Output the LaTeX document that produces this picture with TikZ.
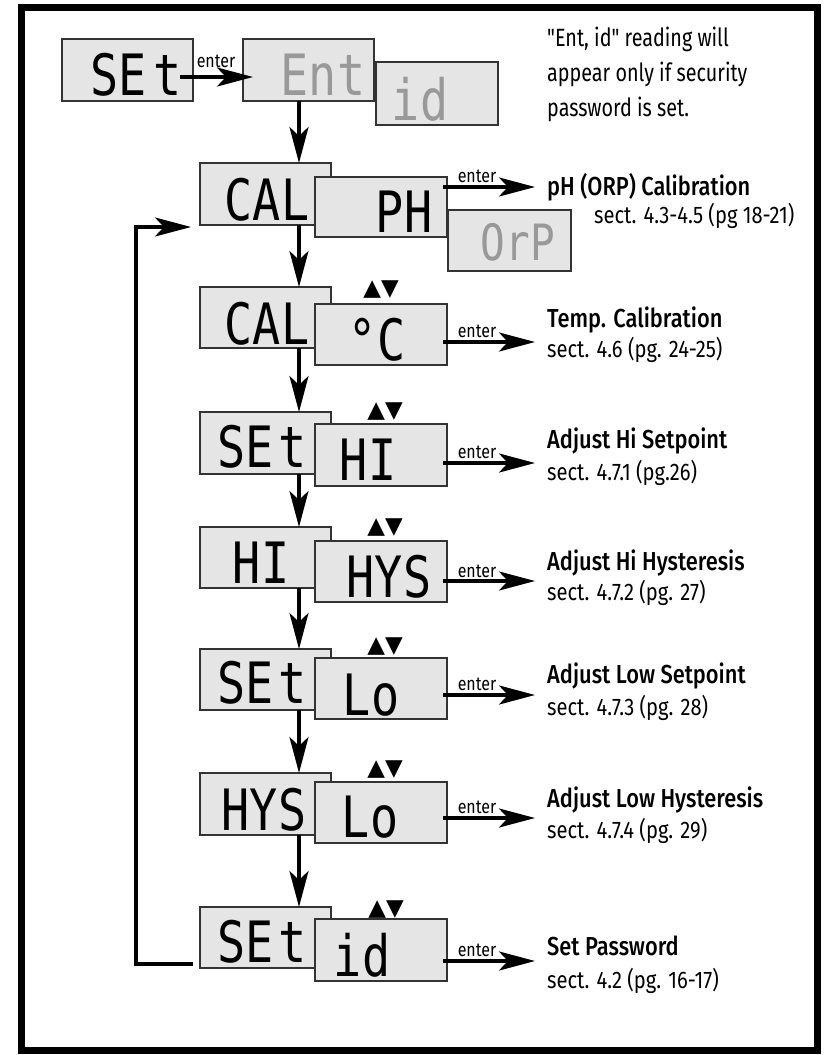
\documentclass[tikz,border=0pt]{standalone}
\usepackage{fontspec}
\setmainfont{Fira Sans}[FakeStretch=0.84, BoldFont={Fira Sans Medium}]
\setmonofont{Fira Sans}[FakeStretch=0.79]
\newfontfamily\segfont{DejaVu Sans Mono}[FakeStretch=0.82]
\newfontfamily\symfont{DejaVu Sans}
\usetikzlibrary{arrows.meta,calc}
\tikzset{
  lcd/.style={draw=black!80, line width=1.4pt, fill=black!10, inner sep=0pt, outer sep=0pt, anchor=north west},
  seg/.style={font=\segfont\fontsize{57}{57}\selectfont, inner sep=0pt, anchor=base},
  segdim/.style={seg, text=black!40},
  arr/.style={line width=3.5pt, -{Stealth[length=36pt,width=19pt,inset=9pt]}},
  entr/.style={font=\fontsize{19}{19}\selectfont, inner sep=0pt, anchor=base},
  ttl/.style={font=\bfseries\fontsize{26}{26}\selectfont, inner sep=0pt, anchor=base west},
  sct/.style={font=\fontsize{24}{24}\selectfont, inner sep=0pt, anchor=base west},
  ud/.style={font=\symfont\fontsize{23}{23}\selectfont, inner sep=0pt, anchor=base},
}
\begin{document}
\begin{tikzpicture}[x=1pt,y=-1pt]
\useasboundingbox (0,0) rectangle (828,1055);
\fill[white] (0,0) rectangle (828,1055);
\draw[line width=7pt] (21,7) rectangle (817,1050);

% top row
\node[lcd, minimum width=131pt, minimum height=62pt] (b0) at (62,39) {};
\node[seg] (b0t) at (136,95) {SE\kern6pt t};
\node[lcd, minimum width=131pt, minimum height=62pt] (ent) at (243,39) {};
\node[segdim] (entt) at (323,95) {Ent};
\node[lcd, minimum width=122pt, minimum height=63pt] (bid) at (376,62) {};
\node[segdim] (bidt) at (420,120) {id};
\node[font=\ttfamily\fontsize{25}{35}\selectfont, inner sep=0pt, align=left, anchor=north west] (note) at (547,27)
  {"Ent, id" reading will\\appear only if security\\password is set.};

% row 1
\node[lcd, minimum width=131pt, minimum height=62pt] (cal1) at (200,163) {};
\node[seg] (cal1t) at (267,220) {CAL};
\node[lcd, minimum width=132pt, minimum height=60pt] (ph) at (315,177) {};
\node[seg] (pht) at (404,232) {PH};
\node[lcd, minimum width=123pt, minimum height=61pt] (orp) at (448,210) {};
\node[segdim, font=\segfont\fontsize{50}{50}\selectfont] (orpt) at (518,260) {OrP};
\node[ttl] (ttl1) at (547,195) {pH (ORP) Calibration};
\node[sct] (sct1) at (594,223) {sect. 4.3-4.5 (pg 18-21)};

% row 2
\node[lcd, minimum width=131pt, minimum height=61pt] (cal2) at (200,287) {};
\node[seg] (cal2t) at (267,344) {CAL};
\node[lcd, minimum width=132pt, minimum height=61pt] (degc) at (315,304) {};
\node[seg] (degct) at (377,360) {°C};
\node[ud] (ud2) at (381,295) {▲▼};
\node[ttl] (ttl2) at (547,327) {Temp. Calibration};
\node[sct] (sct2) at (547,357) {sect. 4.6 (pg. 24-25)};

% row 3
\node[lcd, minimum width=131pt, minimum height=62pt] (set3) at (200,412) {};
\node[seg] (set3t) at (262,467) {SE\kern4pt t};
\node[lcd, minimum width=132pt, minimum height=62pt] (hi3) at (315,424) {};
\node[seg] (hi3t) at (368,480) {HI};
\node[ud] (ud3) at (385,417) {▲▼};
\node[ttl] (ttl3) at (547,448) {Adjust Hi Setpoint};
\node[sct] (sct3) at (547,480) {sect. 4.7.1 (pg.26)};

% row 4
\node[lcd, minimum width=131pt, minimum height=61pt] (hi4) at (200,527) {};
\node[seg] (hi4t) at (261,583) {HI};
\node[lcd, minimum width=132pt, minimum height=61pt] (hys4) at (315,541) {};
\node[seg] (hys4t) at (389,597) {HYS};
\node[ud] (ud4) at (385,533) {▲▼};
\node[ttl] (ttl4) at (547,570) {Adjust Hi Hysteresis};
\node[sct] (sct4) at (547,600) {sect. 4.7.2 (pg. 27)};

% row 5
\node[lcd, minimum width=131pt, minimum height=61pt] (set5) at (200,649) {};
\node[seg] (set5t) at (262,703) {SE\kern4pt t};
\node[lcd, minimum width=132pt, minimum height=61pt] (lo5) at (315,658) {};
\node[seg] (lo5t) at (371,715) {Lo};
\node[ud] (ud5) at (385,652) {▲▼};
\node[ttl] (ttl5) at (547,683) {Adjust Low Setpoint};
\node[sct] (sct5) at (547,715) {sect. 4.7.3 (pg. 28)};

% row 6
\node[lcd, minimum width=131pt, minimum height=62pt] (hys6) at (200,773) {};
\node[seg] (hys6t) at (264,830) {HYS};
\node[lcd, minimum width=132pt, minimum height=61pt] (lo6) at (315,782) {};
\node[seg] (lo6t) at (370,837) {Lo};
\node[ud] (ud6) at (385,775) {▲▼};
\node[ttl] (ttl6) at (547,807) {Adjust Low Hysteresis};
\node[sct] (sct6) at (547,838) {sect. 4.7.4 (pg. 29)};

% row 7
\node[lcd, minimum width=131pt, minimum height=61pt] (set7) at (200,907) {};
\node[seg] (set7t) at (262,962) {SE\kern4pt t};
\node[lcd, minimum width=132pt, minimum height=62pt] (id7) at (315,919) {};
\node[seg] (id7t) at (362,976) {id};
\node[ud] (ud7) at (386,915) {▲▼};
\node[ttl] (ttl7) at (547,955) {Set Password};
\node[sct] (sct7) at (547,988) {sect. 4.2 (pg. 16-17)};

% coordinates
\coordinate (vx) at (299,0);
\coordinate (a0) at (253,77);
\coordinate (t1) at (535,187);
\coordinate (t2) at (535,342);
\coordinate (t3) at (535,463);
\coordinate (t4) at (535,581);
\coordinate (t5) at (535,695);
\coordinate (t6) at (535,818);
\coordinate (t7) at (535,961);
\coordinate (L1) at (136,964);
\coordinate (L2) at (136,227);

% top arrow
\draw[arr] ([xshift=-13pt]b0.east |- a0) -- (a0);
\node[entr] (e0) at (216,67) {enter};

% vertical arrows
\draw[arr] (ent.south -| vx) -- (cal1.north -| vx);
\draw[arr] (cal1.south -| vx) -- (cal2.north -| vx);
\draw[arr] (cal2.south -| vx) -- (set3.north -| vx);
\draw[arr] (set3.south -| vx) -- (hi4.north -| vx);
\draw[arr] (hi4.south -| vx) -- (set5.north -| vx);
\draw[arr] (set5.south -| vx) -- (hys6.north -| vx);
\draw[arr] (hys6.south -| vx) -- (set7.north -| vx);

% enter arrows
\draw[arr] ([xshift=-4pt]ph.east |- t1) -- (t1);
\draw[arr] ([xshift=-4pt]degc.east |- t2) -- (t2);
\draw[arr] ([xshift=-4pt]hi3.east |- t3) -- (t3);
\draw[arr] ([xshift=-4pt]hys4.east |- t4) -- (t4);
\draw[arr] ([xshift=-4pt]lo5.east |- t5) -- (t5);
\draw[arr] ([xshift=-4pt]lo6.east |- t6) -- (t6);
\draw[arr] ([xshift=-4pt]id7.east |- t7) -- (t7);
\node[entr] (e1) at (477,182) {enter};
\node[entr] (e2) at (477,337) {enter};
\node[entr] (e3) at (477,458) {enter};
\node[entr] (e4) at (477,577) {enter};
\node[entr] (e5) at (477,690) {enter};
\node[entr] (e6) at (477,813) {enter};
\node[entr] (e7) at (477,956) {enter};

% loop back
\draw[arr] ([xshift=-7pt]set7.west |- L1) -- (L1) -- (L2) -- ([xshift=-9pt]cal1.west |- L2);
\end{tikzpicture}
\end{document}
